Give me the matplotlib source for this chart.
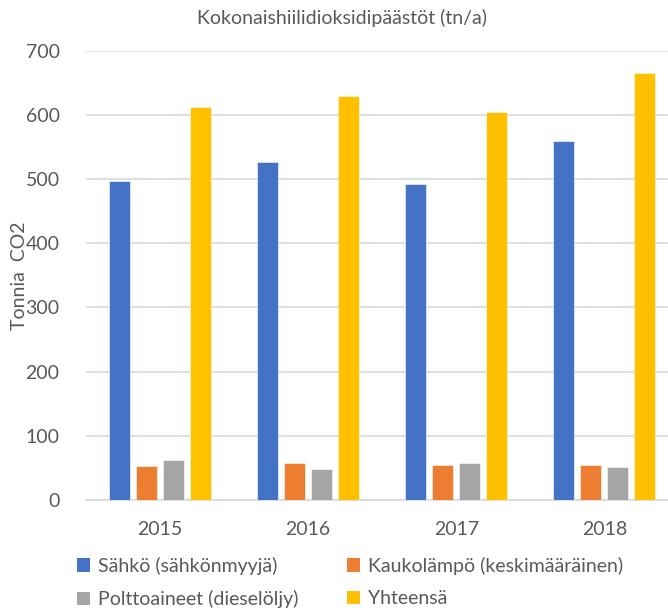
import numpy as np
import matplotlib
matplotlib.use('Agg')
import matplotlib.pyplot as plt
from matplotlib.patches import Patch

years = ['2015', '2016', '2017', '2018']
series = ['Sähkö (sähkönmyyjä)', 'Kaukolämpö (keskimääräinen)',
          'Polttoaineet (dieselöljy)', 'Yhteensä']
sahko = [497, 526, 493, 560]
kaukolampo = [53, 57, 55, 55]
polttoaineet = [62, 48, 57, 51]
yhteensa = [613, 629, 604, 665]
colors = ['#4472C4', '#ED7D31', '#A5A5A5', '#FFC000']

txt = '#595959'
plt.rcParams['font.family'] = ['Lato', 'DejaVu Sans']

fig = plt.figure(figsize=(6.68, 6.08), dpi=100)
ax = fig.add_axes([86/668, 1-500/608, 582/668, (500-50.7)/608])

x = np.arange(len(years))
w = 0.142
step = 0.182
for i, vals in enumerate([sahko, kaukolampo, polttoaineet, yhteensa]):
    ax.bar(x + (i - 1.5) * step, vals, width=w, color=colors[i],
           edgecolor='white', linewidth=0.4, zorder=3)

ax.set_ylim(0, 700)
ax.set_xlim(-0.5, 3.43)
ax.set_yticks(range(0, 701, 100))
ax.set_xticks(x)
ax.set_xticklabels(years)
ax.yaxis.grid(True, color='#D9D9D9', linewidth=1.2, zorder=0)
for s in ['top', 'right', 'left']:
    ax.spines[s].set_visible(False)
ax.spines['bottom'].set_color('#D9D9D9')
ax.spines['bottom'].set_linewidth(1.2)
ax.tick_params(length=0, labelsize=14, labelcolor=txt)
ax.tick_params(axis='y', pad=19)
ax.tick_params(axis='x', pad=15)

fig.text(20/668, 1-276/608, 'Tonnia  CO2', rotation=90, fontsize=14,
         color=txt, ha='center', va='center')
fig.text(342/668, 1-18/608, 'Kokonaishiilidioksidipäästöt (tn/a)',
         fontsize=14, color=txt, ha='center', va='center')

# legend is filled row by row: swap into column-major order
order = [0, 2, 1, 3]
handles = [Patch(facecolor=colors[k], edgecolor='none') for k in order]
labels = [series[k] for k in order]
fig.legend(handles, labels, ncol=2, loc='upper left',
           bbox_to_anchor=(59/668, 1-539/608), frameon=False,
           fontsize=14, labelcolor=txt, handlelength=0.7, handleheight=0.7,
           handletextpad=0.4, columnspacing=2.5, labelspacing=0.8)

fig.savefig('out.png', dpi=100)
